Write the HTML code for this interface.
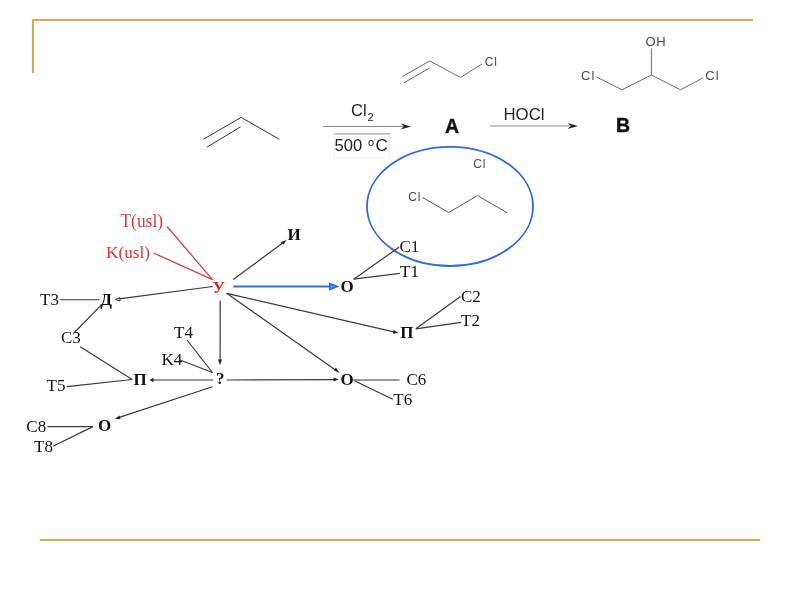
<!DOCTYPE html>
<html><head><meta charset="utf-8">
<style>
html,body{margin:0;padding:0;background:#fff;width:800px;height:600px;overflow:hidden}
svg{position:absolute;left:0;top:0;display:block;will-change:transform}
.sr{font-family:"Liberation Serif",serif}
.ss{font-family:"Liberation Sans",sans-serif}
</style></head><body>
<svg width="800" height="600" viewBox="0 0 800 600">
<!-- gold frame -->
<g fill="#fffbe2">
<rect x="31" y="18" width="723" height="4"/>
<rect x="31" y="18" width="4" height="56"/>
<rect x="39" y="538" width="722" height="4"/>
</g>
<g fill="#c8ab6a">
<rect x="32" y="19" width="721" height="2"/>
<rect x="32" y="19" width="2" height="54"/>
<rect x="40" y="539" width="720" height="2"/>
</g>

<!-- propene -->
<g stroke="#333" stroke-width="1" fill="none">
<line x1="203.4" y1="139.3" x2="241.1" y2="117.4"/>
<line x1="206.8" y1="147.2" x2="240.6" y2="126.9"/>
<line x1="241.1" y1="117.4" x2="279.4" y2="139.3"/>
</g>

<!-- arrow 1 -->
<line x1="323" y1="126.5" x2="405" y2="126.5" stroke="#8c8c8c" stroke-width="1.2"/>
<polygon points="411,126.5 400.5,123.4 404,126.5 400.5,129.6" fill="#222"/>
<text class="ss" x="351" y="115.5" font-size="16.5" fill="#222">Cl<tspan font-size="11" dx="0.8" dy="5.3">2</tspan></text>
<rect x="334.5" y="134" width="55" height="24" fill="none" stroke="#f1f1f1" stroke-width="1"/>
<line x1="334.5" y1="133.9" x2="390" y2="133.9" stroke="#aaa" stroke-width="1.2"/>
<text class="ss" x="334.6" y="150.8" font-size="16.6" fill="#222">500 <tspan font-size="11" dx="1" dy="-4.5">o</tspan><tspan font-size="17" dx="1.5" dy="4.5">C</tspan></text>

<!-- allyl chloride -->
<g stroke="#6a6a6a" stroke-width="1" fill="none">
<line x1="402" y1="76.75" x2="429.75" y2="61"/>
<line x1="404" y1="82.75" x2="430" y2="67.75"/>
<line x1="430" y1="61" x2="460.5" y2="77.5"/>
<line x1="460.5" y1="77.5" x2="482" y2="64"/>
</g>
<text class="ss" x="484.7" y="66" font-size="12" fill="#4a4a4a" letter-spacing="0.8">Cl</text>

<text class="ss" x="445" y="133.3" font-size="19.5" font-weight="bold" fill="#111" stroke="#111" stroke-width="0.4">A</text>
<text class="ss" x="503.5" y="120" font-size="16.8" fill="#222">HOCl</text>
<line x1="490" y1="126" x2="572" y2="126" stroke="#8c8c8c" stroke-width="1.2"/>
<polygon points="578,126 567.5,122.9 571,126 567.5,129.1" fill="#222"/>
<text class="ss" x="616" y="131.8" font-size="19.5" font-weight="bold" fill="#111" stroke="#111" stroke-width="0.4">B</text>

<!-- glycerol dichlorohydrin -->
<g stroke="#6a6a6a" stroke-width="1" fill="none">
<line x1="651.4" y1="48.4" x2="651.4" y2="75"/>
<line x1="596.6" y1="77" x2="622" y2="89.8"/>
<line x1="622" y1="89.8" x2="651.4" y2="75"/>
<line x1="651.4" y1="75" x2="680.5" y2="89.8"/>
<line x1="680.5" y1="89.8" x2="702.8" y2="78"/>
</g>
<text class="ss" x="645.6" y="45.8" font-size="13" fill="#4a4a4a" letter-spacing="0.5">OH</text>
<text class="ss" x="581" y="79.8" font-size="13" fill="#4a4a4a" letter-spacing="1">Cl</text>
<text class="ss" x="705.3" y="79.6" font-size="13" fill="#4a4a4a" letter-spacing="1">Cl</text>

<!-- ellipse -->
<ellipse cx="450" cy="206.4" rx="83" ry="59.6" fill="none" stroke="#3069d8" stroke-width="1.8"/>
<text class="ss" x="473.3" y="167.5" font-size="12" fill="#4a4a4a" letter-spacing="0.8">Cl</text>
<text class="ss" x="408.3" y="201.25" font-size="12" fill="#4a4a4a" letter-spacing="0.8">Cl</text>
<polyline points="422.5,197.5 448.75,212.5 477.5,195.5 507.5,213" fill="none" stroke="#555" stroke-width="1"/>

<!-- graph -->
<g class="sr" font-size="17" fill="#111">
<text transform="translate(120.5,226.8) scale(1,1.03)" fill="#e03434" font-size="17.4">T(usl)</text>
<text transform="translate(106,258) scale(1,1.03)" fill="#e03434" font-size="17.2">K(usl)</text>
<text transform="translate(399.5,251.70) scale(1,1.04)">C1</text>
<text transform="translate(400,277.20) scale(1,1.04)">T1</text>
<text transform="translate(461,301.70) scale(1,1.04)">C2</text>
<text transform="translate(461,326.20) scale(1,1.04)">T2</text>
<text transform="translate(40,305.30) scale(1,1.04)">T3</text>
<text transform="translate(61,343.45) scale(1,1.04)">C3</text>
<text transform="translate(174,338.40) scale(1,1.04)">T4</text>
<text transform="translate(161.5,365.00) scale(1,1.04)">K4</text>
<text transform="translate(46.5,391.20) scale(1,1.04)">T5</text>
<text transform="translate(406.5,385.45) scale(1,1.04)">C6</text>
<text transform="translate(393.3,404.95) scale(1,1.04)">T6</text>
<text transform="translate(26.3,431.50) scale(1,1.04)">C8</text>
<text transform="translate(34,451.50) scale(1,1.04)">T8</text>
</g>
<g class="sr" font-size="17" font-weight="bold" fill="#111">
<text transform="translate(212.6,292.9) scale(1,1.04)" fill="#e02020" font-size="17">У</text>
<text transform="translate(287.5,240) scale(1,1.04)">И</text>
<text transform="translate(340.5,291.9) scale(1,1.04)">O</text>
<text transform="translate(100.3,305) scale(1,1.04)">Д</text>
<text transform="translate(133.5,385.2) scale(1,1.04)">П</text>
<text transform="translate(216,384.2) scale(1,1.04)">?</text>
<text transform="translate(340.6,384.9) scale(1,1.04)">O</text>
<text transform="translate(400.3,338) scale(1,1.04)">П</text>
<text transform="translate(98,431.1) scale(1,1.04)">O</text>
</g>

<g stroke="#d83c3c" stroke-width="1.25" fill="none">
<line x1="167" y1="226.5" x2="212.5" y2="279.6"/>
<line x1="153.5" y1="253" x2="212.5" y2="279.6"/>
</g>

<g stroke="#3a3a3a" stroke-width="1.2" fill="none">
<line x1="233.3" y1="279.6" x2="284" y2="242"/>
<line x1="353.7" y1="279.2" x2="399" y2="247.2"/>
<line x1="353.7" y1="279.2" x2="399.8" y2="273.3"/>
<line x1="212.9" y1="286.5" x2="119" y2="298.9"/>
<line x1="60" y1="299.75" x2="99.4" y2="299.75"/>
<line x1="101.9" y1="304.4" x2="74.4" y2="332.5"/>
<line x1="80.2" y1="346.8" x2="132.2" y2="379.5"/>
<line x1="67" y1="386.7" x2="132.2" y2="379.5"/>
<line x1="213.3" y1="380" x2="152" y2="380"/>
<line x1="220.2" y1="300.4" x2="220.1" y2="361"/>
<line x1="187" y1="340" x2="212.5" y2="372.5"/>
<line x1="180" y1="360" x2="212.5" y2="372.5"/>
<line x1="226.7" y1="380" x2="335" y2="379.6"/>
<line x1="353" y1="380" x2="399.5" y2="380"/>
<line x1="354.5" y1="380.8" x2="392.75" y2="399.25"/>
<line x1="226.7" y1="293.3" x2="336.5" y2="370.8"/>
<line x1="226.7" y1="293.3" x2="394.8" y2="332.1"/>
<line x1="415.8" y1="328.8" x2="460.5" y2="296.5"/>
<line x1="415.8" y1="328.8" x2="461.2" y2="322.4"/>
<line x1="212.5" y1="386.7" x2="118.5" y2="417.6"/>
<line x1="47.5" y1="426.7" x2="92.9" y2="426.7"/>
<line x1="53" y1="446.3" x2="92.9" y2="426.6"/>
</g>
<!-- arrowheads -->
<g fill="#222">
<polygon points="286.6,240 280.6,242.2 283.6,244.4"/>
<polygon points="115.3,299.4 120,297.6 120,301" fill="#ccc" stroke="#222" stroke-width="0.9"/>
<polygon points="149.5,380 153.5,377.8 153.5,382.2"/>
<polygon points="220,365 218,359.5 222,359.5"/>
<polygon points="338.8,379.5 333.5,377.5 333.5,381.5"/>
<polygon points="339.5,373 333.8,370.3 336,367.6"/>
<polygon points="398.6,333 393.6,330 392.8,333.8"/>
<polygon points="114.9,418.8 119.5,415.4 120.6,419.2"/>
</g>

<!-- blue arrow -->
<line x1="233.3" y1="286.6" x2="330" y2="286.6" stroke="#3070dd" stroke-width="2"/>
<polygon points="339.5,286.6 329,282.4 329,290.8" fill="#2f6ee0"/>
<polygon points="333.5,286.6 331,285.4 331,287.8" fill="#8fb2f0"/>
</svg>
</body></html>
